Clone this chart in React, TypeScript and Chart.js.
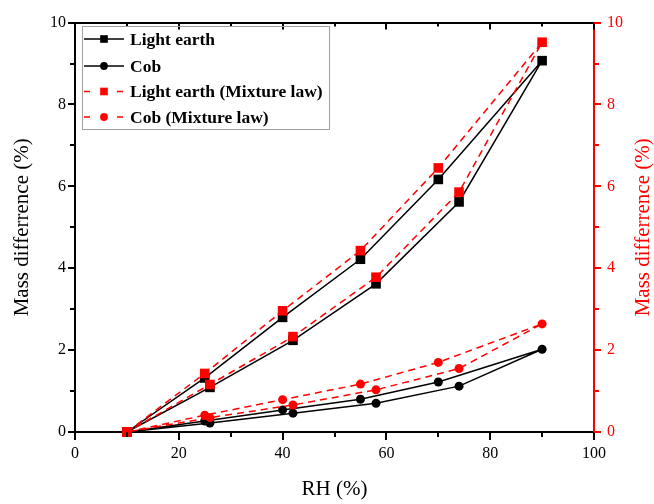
import React, { useEffect, useRef } from "react";
import { Chart, registerables } from "chart.js";

Chart.register(...registerables);

// ---- Data ----
const rhLoop = [10, 25, 40, 55, 70, 90, 74, 58, 42, 26, 10];
const lightEarth = [0, 1.32, 2.8, 4.22, 6.17, 9.07, 5.62, 3.62, 2.24, 1.09, 0];
const lightEarthMix = [0, 1.43, 2.96, 4.43, 6.45, 9.52, 5.86, 3.78, 2.33, 1.16, 0];
const cob = [0, 0.27, 0.54, 0.8, 1.22, 2.02, 1.12, 0.7, 0.46, 0.22, 0];
const cobMix = [0, 0.41, 0.79, 1.17, 1.7, 2.64, 1.55, 1.03, 0.66, 0.35, 0];

const seriesLabels = ["Light earth", "Cob", "Light earth (Mixture law)", "Cob (Mixture law)"];
const xTickValues = [0, 10, 20, 30, 40, 50, 60, 70, 80, 90, 100];
const yTickValues = [0, 1, 2, 3, 4, 5, 6, 7, 8, 9, 10];
const xTitle = "RH (%)";
const yTitle = "Mass differrence (%)";

const FONT = "'Liberation Serif', 'Times New Roman', serif";
const RED = "#ff0000";

const toPoints = (xs: number[], ys: number[]) => xs.map((x, i) => ({ x, y: ys[i] }));

const tickPlugin = {
  id: "customTicks",
  afterDraw(chart: any) {
    const ctx = chart.ctx;
    const { left, right, top, bottom } = chart.chartArea;
    const xs = chart.scales.x;
    const ys = chart.scales.y;
    ctx.save();
    ctx.lineWidth = 2;
    ctx.strokeStyle = "#000";
    const line = (x1: number, y1: number, x2: number, y2: number) => {
      ctx.beginPath();
      ctx.moveTo(x1, y1);
      ctx.lineTo(x2, y2);
      ctx.stroke();
    };
    xTickValues.forEach((v) => {
      const px = Math.round(xs.getPixelForValue(v));
      const major = v % 20 === 0;
      line(px, bottom, px, bottom + (major ? 8 : 5));
      line(px, top, px, top + (major ? 7 : 4));
    });
    yTickValues.forEach((v) => {
      const py = Math.round(ys.getPixelForValue(v));
      const major = v % 2 === 0;
      ctx.strokeStyle = "#000";
      line(left, py, left - (major ? 7 : 5), py);
      ctx.strokeStyle = RED;
      line(right, py, right + (major ? 7 : 5), py);
    });
    // right axis title, reading bottom-to-top like the left one
    ctx.fillStyle = RED;
    ctx.font = `21px ${FONT}`;
    ctx.textAlign = "center";
    ctx.textBaseline = "middle";
    ctx.translate(643, (top + bottom) / 2);
    ctx.rotate(-Math.PI / 2);
    ctx.fillText(yTitle, 0, 0);
    ctx.restore();
  },
};

const legendPlugin = {
  id: "customLegend",
  afterDraw(chart: any) {
    const ctx = chart.ctx;
    const bx = 82, by = 26, bw = 247, bh = 103;
    ctx.save();
    ctx.strokeStyle = "#a0a0a0";
    ctx.lineWidth = 1;
    ctx.strokeRect(bx + 0.5, by + 0.5, bw, bh);
    const rows = [39, 66, 91.5, 117];
    chart.data.datasets.forEach((ds: any, i: number) => {
      const cy = rows[i];
      ctx.strokeStyle = ds.borderColor;
      ctx.lineWidth = 1.5;
      ctx.beginPath();
      if (ds.borderDash) {
        ctx.moveTo(84, cy); ctx.lineTo(90, cy);
        ctx.moveTo(117, cy); ctx.lineTo(123, cy);
      } else {
        ctx.moveTo(84, cy); ctx.lineTo(124, cy);
      }
      ctx.stroke();
      ctx.fillStyle = ds.pointBackgroundColor;
      if (ds.pointStyle === "rect") {
        ctx.fillRect(104 - 3.8, cy - 3.8, 7.6, 7.6);
      } else {
        ctx.beginPath();
        ctx.arc(104, cy, 3.9, 0, Math.PI * 2);
        ctx.fill();
      }
      ctx.fillStyle = "#000";
      ctx.font = `bold 17.5px ${FONT}`;
      ctx.textBaseline = "middle";
      ctx.textAlign = "left";
      ctx.fillText(ds.label, 130, cy + 1);
    });
    ctx.restore();
  },
};

export default function App() {
  const ref = useRef<HTMLCanvasElement | null>(null);
  useEffect(() => {
    if (!ref.current) return;
    const common = { showLine: true, clip: false as any, pointBorderWidth: 0, pointHoverRadius: 0 };
    const chart = new Chart(ref.current, {
      type: "scatter",
      data: {
        datasets: [
          {
            ...common,
            label: seriesLabels[0],
            data: toPoints(rhLoop, lightEarth),
            borderColor: "#000",
            backgroundColor: "#000",
            pointBackgroundColor: "#000",
            borderWidth: 1.5,
            pointStyle: "rect",
            pointRadius: 6.8,
            order: 2,
          },
          {
            ...common,
            label: seriesLabels[1],
            data: toPoints(rhLoop, cob),
            borderColor: "#000",
            backgroundColor: "#000",
            pointBackgroundColor: "#000",
            borderWidth: 1.5,
            pointStyle: "circle",
            pointRadius: 4.5,
            order: 2,
          },
          {
            ...common,
            label: seriesLabels[2],
            data: toPoints(rhLoop, lightEarthMix),
            borderColor: RED,
            backgroundColor: RED,
            pointBackgroundColor: RED,
            borderWidth: 1.5,
            borderDash: [7, 5],
            pointStyle: "rect",
            pointRadius: 6.8,
            order: 1,
          },
          {
            ...common,
            label: seriesLabels[3],
            data: toPoints(rhLoop, cobMix),
            borderColor: RED,
            backgroundColor: RED,
            pointBackgroundColor: RED,
            borderWidth: 1.5,
            borderDash: [7, 5],
            pointStyle: "circle",
            pointRadius: 4.5,
            order: 1,
          },
        ] as any,
      },
      options: {
        animation: false,
        responsive: false,
        events: [],
        layout: { padding: 0 },
        plugins: { legend: { display: false }, tooltip: { enabled: false } },
        scales: {
          x: {
            type: "linear",
            position: "bottom",
            min: 0,
            max: 100,
            afterFit: (s: any) => { s.height = 72; },
            afterBuildTicks: (s: any) => { s.ticks = xTickValues.filter((v) => v % 20 === 0).map((v) => ({ value: v })); },
            grid: { display: false, drawTicks: false },
            border: { display: true, color: "#000", width: 2 },
            ticks: { color: "#000", font: { family: FONT, size: 16 }, padding: 12, autoSkip: false, maxRotation: 0 },
            title: { display: true, text: xTitle, color: "#000", font: { family: FONT, size: 21, lineHeight: 1 }, padding: { top: 0, bottom: 4 } },
          },
          x2: {
            type: "linear",
            position: "top",
            min: 0,
            max: 100,
            afterFit: (s: any) => { s.height = 14; },
            grid: { display: false, drawTicks: false },
            border: { display: true, color: "#000", width: 2 },
            ticks: { display: false },
          },
          y: {
            type: "linear",
            position: "left",
            min: 0,
            max: 10,
            afterFit: (s: any) => { s.width = 75; },
            afterBuildTicks: (s: any) => { s.ticks = yTickValues.filter((v) => v % 2 === 0).map((v) => ({ value: v })); },
            grid: { display: false, drawTicks: false },
            border: { display: true, color: "#000", width: 2 },
            ticks: { color: "#000", font: { family: FONT, size: 16 }, padding: 9, autoSkip: false },
            title: { display: true, text: yTitle, color: "#000", font: { family: FONT, size: 21, lineHeight: 1 }, padding: { top: 12, bottom: 0 } },
          },
          y2: {
            type: "linear",
            position: "right",
            min: 0,
            max: 10,
            afterFit: (s: any) => { s.width = 60; },
            afterBuildTicks: (s: any) => { s.ticks = yTickValues.filter((v) => v % 2 === 0).map((v) => ({ value: v })); },
            grid: { display: false, drawTicks: false },
            border: { display: true, color: RED, width: 2 },
            ticks: { color: RED, font: { family: FONT, size: 16 }, padding: 13, autoSkip: false },
            title: { display: false },
          },
        },
      } as any,
      plugins: [tickPlugin, legendPlugin],
    });
    return () => chart.destroy();
  }, []);
  return (
    <div style={{ position: "absolute", left: 0, top: 0, width: 654, height: 504, background: "#fff" }}>
      <canvas ref={ref} width={654} height={504} />
    </div>
  );
}
